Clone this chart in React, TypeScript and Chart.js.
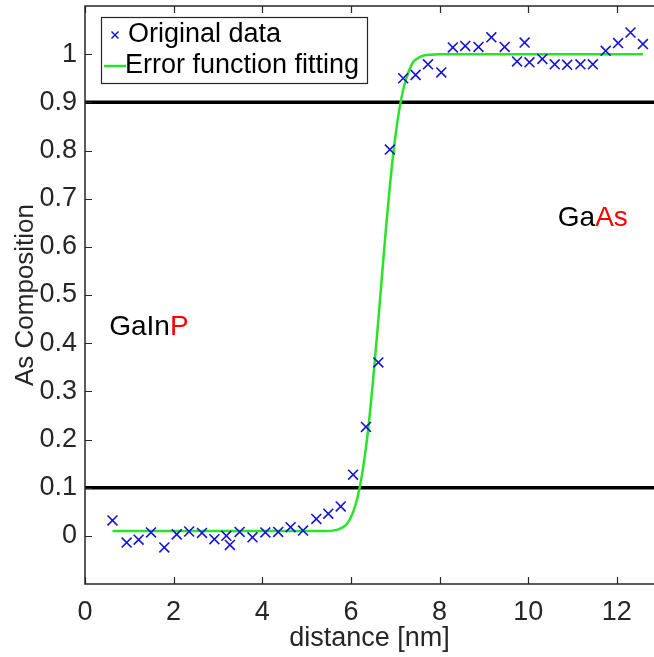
import React, { useEffect, useRef } from "react";
import { Chart, registerables } from "chart.js";

Chart.register(...registerables);

// ---- data ----
const distanceNm = [
  0.62, 0.94, 1.21, 1.49, 1.79, 2.07, 2.35, 2.64, 2.92, 3.19, 3.27, 3.49, 3.78, 4.07, 4.36,
  4.64, 4.92, 5.22, 5.49, 5.77, 6.05, 6.34, 6.62, 6.88, 7.18, 7.46, 7.74, 8.04, 8.3, 8.58,
  8.88, 9.17, 9.47, 9.75, 9.92, 10.03, 10.32, 10.6, 10.88, 11.18, 11.46, 11.75, 12.03, 12.31, 12.59,
];
const asComposition = [
  0.032, -0.014, -0.008, 0.007, -0.024, 0.003, 0.009, 0.006, -0.007, 0.0, -0.019, 0.008, -0.003, 0.007, 0.008,
  0.018, 0.011, 0.035, 0.046, 0.061, 0.127, 0.226, 0.36, 0.802, 0.95, 0.957, 0.979, 0.962, 1.014, 1.017,
  1.015, 1.035, 1.015, 0.985, 1.024, 0.983, 0.99, 0.979, 0.978, 0.979, 0.979, 1.007, 1.023, 1.045, 1.021,
];
const fitX = [
  0.62, 4.0, 5.0, 5.4, 5.7, 5.9, 6.0, 6.1, 6.2, 6.3, 6.4, 6.5, 6.6, 6.7, 6.8, 6.9, 7.0, 7.1, 7.2,
  7.3, 7.4, 7.5, 7.6, 7.8, 8.0, 8.5, 12.59,
];
const fitY = [
  0.01, 0.01, 0.01, 0.0102, 0.013, 0.0236, 0.0387, 0.063, 0.101, 0.156, 0.23, 0.322, 0.427, 0.538,
  0.647, 0.745, 0.826, 0.889, 0.934, 0.963, 0.983, 0.991, 0.996, 0.999, 1.0, 1.0, 1.0,
];
const thresholdLevels = [0.1, 0.9];
const xTicks = [0, 2, 4, 6, 8, 10, 12];
const xTickLabels = ["0", "2", "4", "6", "8", "10", "12"];
const yTicks = [0, 0.1, 0.2, 0.3, 0.4, 0.5, 0.6, 0.7, 0.8, 0.9, 1];
const yTickLabels = ["0", "0.1", "0.2", "0.3", "0.4", "0.5", "0.6", "0.7", "0.8", "0.9", "1"];
const X_MIN = 0;
const X_MAX = 12.84;
const Y_MIN = -0.1;
const Y_MAX = 1.1;
const legendLabels = ["Original data", "Error function fitting"];
// region labels: [black part, red part, x (nm), y (composition)]
const regionLabels: [string, string, number, number][] = [
  ["GaIn", "P", 0.546, 0.434],
  ["Ga", "As", 10.67, 0.659],
];

const FONT = "'Liberation Sans', Arial, sans-serif";
const AXIS_COLOR = "#262626";
const BLUE = "rgb(20,20,215)";
const GREEN = "rgb(40,228,40)";

const zeroPad = (s: any) => {
  s.paddingTop = 0;
  s.paddingBottom = 0;
  s.paddingLeft = 0;
  s.paddingRight = 0;
};

const framePlugin = {
  id: "matlabFrame",
  afterDraw(chart: any) {
    const { ctx, chartArea, scales } = chart;
    const { left, top, right, bottom } = chartArea;
    const x = scales.x;
    const y = scales.y;
    ctx.save();
    // frame
    ctx.strokeStyle = AXIS_COLOR;
    ctx.lineWidth = 1.5;
    ctx.beginPath();
    ctx.moveTo(right + 2, top);
    ctx.lineTo(left, top);
    ctx.lineTo(left, bottom);
    ctx.lineTo(right + 2, bottom);
    ctx.stroke();
    // inward ticks
    ctx.lineWidth = 1.2;
    ctx.beginPath();
    for (const v of xTicks) {
      const px = Math.round(x.getPixelForValue(v)) + 0.5;
      ctx.moveTo(px, bottom);
      ctx.lineTo(px, bottom - 7);
      ctx.moveTo(px, top);
      ctx.lineTo(px, top + 7);
    }
    for (const v of yTicks) {
      const py = Math.round(y.getPixelForValue(v)) + 0.5;
      ctx.moveTo(left, py);
      ctx.lineTo(left + 7, py);
    }
    ctx.stroke();

    // legend
    const bx = left + 16;
    const by = top + 11;
    const bw = 266;
    const bh = 66;
    ctx.fillStyle = "#ffffff";
    ctx.fillRect(bx, by, bw, bh);
    ctx.strokeStyle = AXIS_COLOR;
    ctx.lineWidth = 1.2;
    ctx.strokeRect(bx + 0.5, by + 0.5, bw, bh);
    // marker
    const mx = bx + 14;
    const my = by + 18;
    ctx.strokeStyle = BLUE;
    ctx.lineWidth = 1.5;
    ctx.beginPath();
    ctx.moveTo(mx - 3.5, my - 3.5);
    ctx.lineTo(mx + 3.5, my + 3.5);
    ctx.moveTo(mx + 3.5, my - 3.5);
    ctx.lineTo(mx - 3.5, my + 3.5);
    ctx.stroke();
    // line sample
    const ly = by + 49;
    ctx.strokeStyle = GREEN;
    ctx.lineWidth = 2.5;
    ctx.beginPath();
    ctx.moveTo(bx + 3, ly);
    ctx.lineTo(bx + 25, ly);
    ctx.stroke();
    ctx.fillStyle = "#000000";
    ctx.font = `27px ${FONT}`;
    ctx.textBaseline = "middle";
    ctx.textAlign = "left";
    ctx.fillText(legendLabels[0], bx + 27, my);
    ctx.fillText(legendLabels[1], bx + 24, ly);

    // region labels
    ctx.font = `28px ${FONT}`;
    for (const [blackPart, redPart, vx, vy] of regionLabels) {
      const px = x.getPixelForValue(vx);
      const py = y.getPixelForValue(vy);
      ctx.fillStyle = "#000000";
      ctx.fillText(blackPart, px, py);
      const w = ctx.measureText(blackPart).width;
      ctx.fillStyle = "#ff0000";
      ctx.fillText(redPart, px + w, py);
    }
    ctx.restore();
  },
};

export default function App() {
  const ref = useRef<HTMLCanvasElement>(null);
  useEffect(() => {
    document.body.style.margin = "0";
    const canvas = ref.current!;
    const scatterData = distanceNm.map((v, i) => ({ x: v, y: asComposition[i] }));
    const fitData = fitX.map((v, i) => ({ x: v, y: fitY[i] }));
    const levelSets = thresholdLevels.map((lv) => ({
      type: "line" as const,
      data: [
        { x: X_MIN, y: lv },
        { x: X_MAX, y: lv },
      ],
      borderColor: "#000000",
      borderWidth: 3.5,
      pointRadius: 0,
      showLine: true,
      fill: false,
    }));
    const chart = new Chart(canvas, {
      type: "scatter",
      data: {
        datasets: [
          {
            label: legendLabels[0],
            data: scatterData,
            pointStyle: "crossRot",
            pointRadius: 7,
            borderColor: BLUE,
            backgroundColor: BLUE,
            pointBorderWidth: 1.6,
            showLine: false,
          } as any,
          {
            type: "line",
            label: legendLabels[1],
            data: fitData,
            borderColor: GREEN,
            borderWidth: 2.5,
            pointRadius: 0,
            cubicInterpolationMode: "monotone",
            fill: false,
          } as any,
          ...(levelSets as any[]),
        ],
      },
      options: {
        responsive: false,
        animation: false,
        layout: { autoPadding: false, padding: { top: 6, right: 0, left: 0, bottom: 0 } },
        plugins: {
          legend: { display: false },
          tooltip: { enabled: false },
        },
        scales: {
          x: {
            type: "linear",
            min: X_MIN,
            max: X_MAX,
            afterBuildTicks: (s: any) => {
              s.ticks = xTicks.map((v) => ({ value: v }));
            },
            afterFit: (s: any) => {
              s.height = 73;
              zeroPad(s);
            },
            grid: { display: false, drawTicks: false },
            border: { display: false },
            ticks: {
              padding: 12,
              autoSkip: false,
              maxRotation: 0,
              color: AXIS_COLOR,
              font: { family: FONT, size: 27 },
              callback: (v: any) => xTickLabels[xTicks.indexOf(Number(v))] ?? "",
            },
            title: {
              display: true,
              text: "distance [nm]",
              color: AXIS_COLOR,
              font: { family: FONT, size: 27 },
              padding: { top: 0, bottom: 2 },
            },
          },
          y: {
            type: "linear",
            min: Y_MIN,
            max: Y_MAX,
            afterBuildTicks: (s: any) => {
              s.ticks = yTicks.map((v) => ({ value: v }));
            },
            afterFit: (s: any) => {
              s.width = 85;
              zeroPad(s);
            },
            grid: { display: false, drawTicks: false },
            border: { display: false },
            ticks: {
              padding: 8,
              autoSkip: false,
              color: AXIS_COLOR,
              font: { family: FONT, size: 27 },
              callback: (v: any) => {
                const i = yTicks.findIndex((t) => Math.abs(t - Number(v)) < 1e-9);
                return i >= 0 ? yTickLabels[i] : "";
              },
            },
            title: {
              display: true,
              text: "As Composition",
              color: AXIS_COLOR,
              font: { family: FONT, size: 26 },
              padding: { top: 10, bottom: 0 },
            },
          },
        },
      },
      plugins: [framePlugin],
    });
    return () => chart.destroy();
  }, []);
  return <canvas ref={ref} width={654} height={657} style={{ display: "block" }} />;
}
